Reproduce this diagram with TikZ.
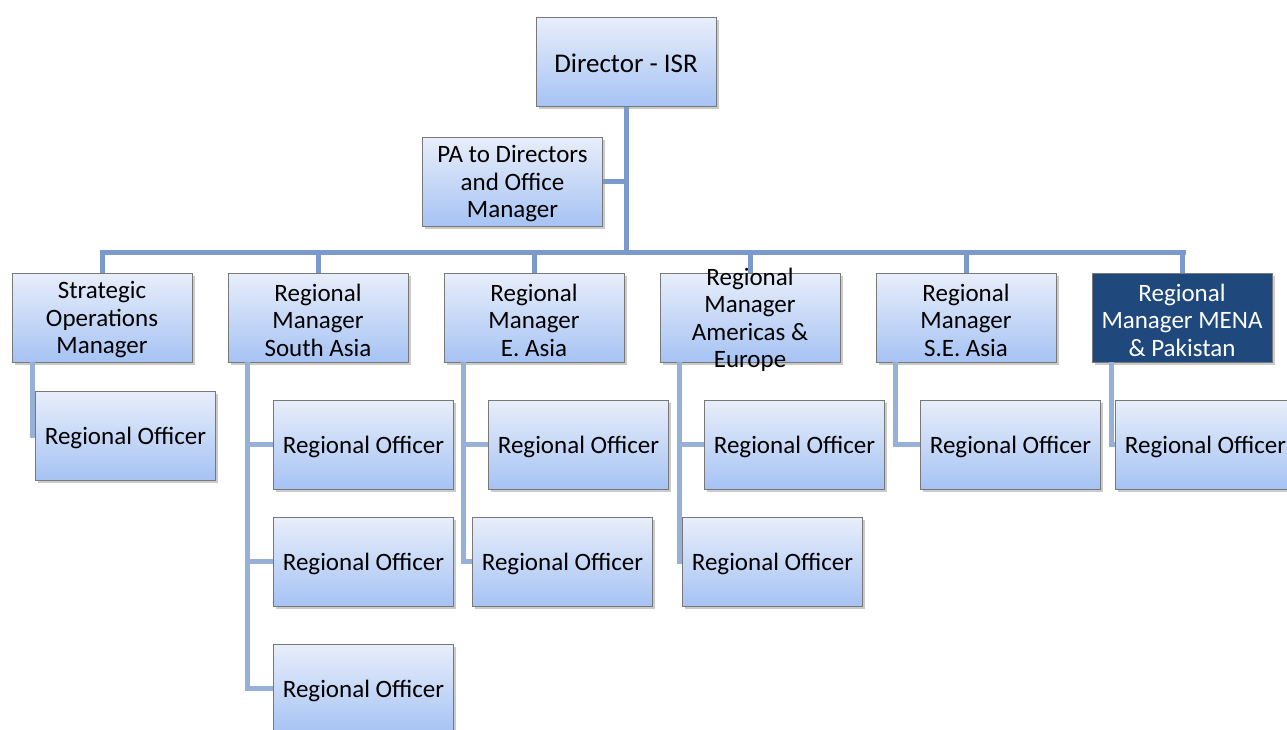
\documentclass[tikz,border=0pt]{standalone}
\usepackage{fontspec}
\setmainfont{Carlito}
\usetikzlibrary{shadows}
\definecolor{boxtop}{RGB}{232,238,250}
\definecolor{boxbot}{RGB}{166,195,244}
\definecolor{linetop}{RGB}{122,154,203}
\definecolor{linelow}{RGB}{150,176,216}
\definecolor{mena}{RGB}{31,73,125}
\tikzset{
  lab/.style={align=center, inner sep=0pt, yshift=-2.5pt,
    font=\fontsize{25}{27.5}\selectfont},
  boxshape/.style={draw={rgb,255:red,120;green,120;blue,120}, line width=0.8pt,
    top color=boxtop, bottom color=boxbot, minimum width=180pt, minimum height=89pt,
    inner sep=0pt,
    drop shadow={shadow xshift=2.5pt, shadow yshift=-2.5pt, opacity=0.35, fill=black!60}},
  box/.style={boxshape, label={[lab]center:#1}},
  bigbox/.style={boxshape, label={[lab,yshift=1.5pt,font=\fontsize{27}{30}\selectfont]center:#1}},
  darkbox/.style={boxshape, top color=mena, bottom color=mena, fill=mena,
    label={[lab,text=white]center:#1}},
  conn/.style={draw=linetop, line width=5pt},
  lconn/.style={draw=linelow, line width=5pt}
}
\begin{document}
\begin{tikzpicture}[x=1pt,y=-1pt]
\useasboundingbox (0,0) rectangle (1287,729);
\clip (0,0) rectangle (1287,729);
\coordinate (busL) at (102,252);
\coordinate (busR) at (1183,252);
\node[bigbox={Director - ISR}] (dir) at (626,62) {};
\node[box={PA to Directors\\and Office\\Manager}] (pa) at (512.5,181.5) {};
\draw[conn] (dir.south) -- (dir.south |- busL);
\draw[conn] (pa.east) -- (pa.east -| dir.south);
\draw[conn] ([xshift=-2.5pt]busL) -- ([xshift=2.5pt]busR);
\foreach \x in {102,318,534,750,966,1182} \draw[conn] (\x,252) -- (\x,275);
% managers
\node[box={Strategic\\Operations\\Manager}] (m1) at (102,317.5) {};
\node[box={Regional\\Manager\\South Asia}] (m2) at (318,317.5) {};
\node[box={Regional\\Manager\\E. Asia}] (m3) at (534,317.5) {};
\node[box={Regional\\Manager\\Americas \&\\Europe}] (m4) at (750,317.5) {};
\node[box={Regional\\Manager\\S.E. Asia}] (m5) at (966,317.5) {};
\node[darkbox={Regional\\Manager MENA\\\& Pakistan}] (m6) at (1182,317.5) {};
% spine coordinates
\coordinate (s1) at ([xshift=21pt]m1.south west);
\coordinate (s2) at ([xshift=20pt]m2.south west);
\coordinate (s3) at ([xshift=20pt]m3.south west);
\coordinate (s4) at ([xshift=20pt]m4.south west);
\coordinate (s5) at ([xshift=20pt]m5.south west);
\coordinate (s6) at ([xshift=20pt]m6.south west);
% officer connectors
\draw[lconn] (s1) |- (125,435.5);
\draw[lconn] (s2) |- (300,688);
\draw[lconn] (s2 |- 0,444.5) -- (300,444.5);
\draw[lconn] (s2 |- 0,561.5) -- (300,561.5);
\draw[lconn] (s3) |- (500,561.5);
\draw[lconn] (s3 |- 0,444.5) -- (520,444.5);
\draw[lconn] (s4) |- (700,561.5);
\draw[lconn] (s4 |- 0,444.5) -- (720,444.5);
\draw[lconn] (s5) |- (940,444.5);
\draw[lconn] (s6) |- (1130,444.5);
% officers
\node[box={Regional Officer}] (o11) at (125.5,435.5) {};
\node[box={Regional Officer}] (o21) at (363.5,444.5) {};
\node[box={Regional Officer}] (o22) at (363.5,561.5) {};
\node[box={Regional Officer}] (o23) at (363.5,688.5) {};
\node[box={Regional Officer}] (o31) at (578.5,444.5) {};
\node[box={Regional Officer}] (o32) at (562.5,561.5) {};
\node[box={Regional Officer}] (o41) at (794.5,444.5) {};
\node[box={Regional Officer}] (o42) at (772.5,561.5) {};
\node[box={Regional Officer}] (o51) at (1010.5,444.5) {};
\node[box={Regional Officer}] (o61) at (1205.5,444.5) {};
\end{tikzpicture}
\end{document}
